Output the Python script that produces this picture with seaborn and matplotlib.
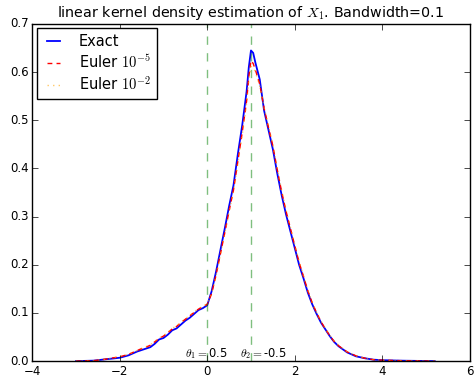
import numpy as np
import pandas as pd
import matplotlib
matplotlib.use("Agg")
import matplotlib.pyplot as plt
import seaborn as sns

# old matplotlib look
plt.style.use("classic")

# values
x_grid = [-3.0, -2.6, -2.4, -2.2, -2.0, -1.8, -1.6, -1.5, -1.4, -1.3, -1.2, -1.1,
          -1.0, -0.9, -0.8, -0.7, -0.6, -0.5, -0.4, -0.3, -0.2, -0.1, 0.0, 0.1,
          0.2, 0.3, 0.4, 0.5, 0.6, 0.7, 0.8, 0.9, 0.95, 1.0, 1.05, 1.1, 1.2, 1.3,
          1.4, 1.5, 1.6, 1.7, 1.8, 1.9, 2.0, 2.1, 2.2, 2.3, 2.4, 2.5, 2.6, 2.7,
          2.8, 2.9, 3.0, 3.2, 3.4, 3.6, 3.8, 4.0, 4.4, 5.2]

exact = [0.0, 0.001, 0.003, 0.005, 0.007, 0.012, 0.020, 0.023, 0.026, 0.029, 0.036, 0.045,
         0.048, 0.055, 0.064, 0.068, 0.076, 0.084, 0.090, 0.098, 0.106, 0.110, 0.116, 0.145,
         0.185, 0.230, 0.275, 0.322, 0.365, 0.430, 0.490, 0.560, 0.610, 0.645, 0.640, 0.620, 0.585, 0.520,
         0.480, 0.440, 0.390, 0.345, 0.305, 0.270, 0.235, 0.200, 0.172, 0.142, 0.118, 0.098, 0.080, 0.066,
         0.052, 0.040, 0.031, 0.018, 0.010, 0.006, 0.003, 0.002, 0.001, 0.0]

euler_5 = [0.0, 0.001, 0.003, 0.006, 0.009, 0.014, 0.022, 0.026, 0.029, 0.033, 0.040, 0.047,
           0.052, 0.059, 0.067, 0.072, 0.080, 0.087, 0.094, 0.101, 0.108, 0.113, 0.118, 0.140,
           0.178, 0.222, 0.266, 0.312, 0.355, 0.415, 0.475, 0.540, 0.590, 0.624, 0.618, 0.605, 0.575, 0.525,
           0.485, 0.447, 0.398, 0.352, 0.312, 0.276, 0.240, 0.205, 0.176, 0.146, 0.121, 0.100, 0.082, 0.067,
           0.053, 0.041, 0.032, 0.019, 0.011, 0.006, 0.003, 0.002, 0.001, 0.0]

euler_2 = [0.0, 0.001, 0.003, 0.006, 0.009, 0.014, 0.022, 0.026, 0.030, 0.034, 0.041, 0.048,
           0.053, 0.060, 0.068, 0.073, 0.081, 0.088, 0.095, 0.102, 0.109, 0.114, 0.119, 0.140,
           0.176, 0.220, 0.264, 0.310, 0.352, 0.410, 0.470, 0.535, 0.582, 0.612, 0.610, 0.600, 0.572, 0.527,
           0.488, 0.450, 0.400, 0.355, 0.315, 0.278, 0.242, 0.207, 0.177, 0.147, 0.122, 0.101, 0.083, 0.068,
           0.054, 0.042, 0.033, 0.019, 0.011, 0.006, 0.003, 0.002, 0.001, 0.0]

theta_lines = [0.0, 1.0]
theta_labels = [r"$\theta_1=$0.5", r"$\theta_2=$-0.5"]
label_x = [-0.5, 0.75]

df = pd.DataFrame({"x": x_grid, "exact": exact, "euler_5": euler_5, "euler_2": euler_2})

fig, ax = plt.subplots(figsize=(4.74, 3.75))
fig.subplots_adjust(left=0.068, right=0.991, bottom=0.037, top=0.936)

sns.lineplot(data=df, x="x", y="exact", ax=ax, color="b", lw=1.3, label="Exact")
sns.lineplot(data=df, x="x", y="euler_5", ax=ax, color="r", lw=1.0, dashes=False,
             label=r"Euler $10^{-5}$")
ax.lines[-1].set_dashes((3.5, 3.0))
sns.lineplot(data=df, x="x", y="euler_2", ax=ax, color="orange", lw=1.0, linestyle=":",
             alpha=0.6, label=r"Euler $10^{-2}$")

for xv in theta_lines:
    ax.axvline(xv, color="g", linestyle="--", alpha=0.5, lw=1.0)
for xt, txt in zip(label_x, theta_labels):
    ax.text(xt, 0.008, txt, fontsize=8.3)

ax.set_xlim(-4, 6)
ax.set_ylim(0, 0.7)
ax.set_xlabel("")
ax.set_ylabel("")
ax.tick_params(labelsize=8.5, pad=2.5)
ax.set_title(r"linear kernel density estimation of $X_1$. Bandwidth=0.1", fontsize=10.3)
ax.legend(loc="upper left", fontsize=10.5, handlelength=1.5, handletextpad=1.0,
          labelspacing=0.3, borderaxespad=0.3)

fig.savefig("out.png", dpi=100, facecolor="white")
